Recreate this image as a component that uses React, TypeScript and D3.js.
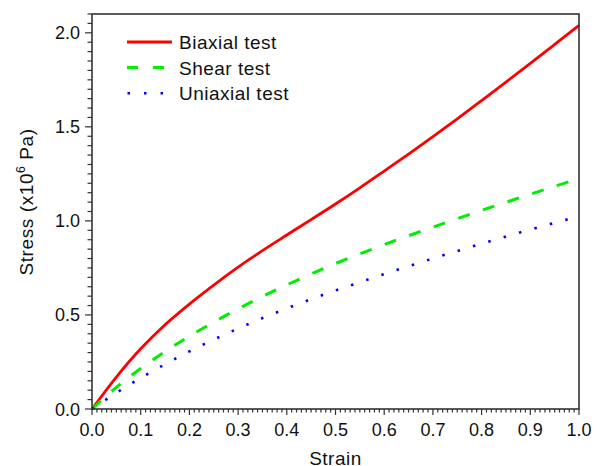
import React from "react";
import * as d3 from "d3";

const strain = [0, 0.05, 0.1, 0.15, 0.2, 0.25, 0.3, 0.35, 0.4, 0.45, 0.5, 0.55, 0.6, 0.65, 0.7, 0.75, 0.8, 0.85, 0.9, 0.95, 1.0];
const biaxial = [0, 0.17, 0.32, 0.448, 0.558, 0.659, 0.754, 0.842, 0.925, 1.007, 1.09, 1.176, 1.265, 1.355, 1.448, 1.543, 1.64, 1.738, 1.837, 1.938, 2.04];
const shear = [0, 0.115, 0.215, 0.305, 0.387, 0.462, 0.532, 0.598, 0.66, 0.718, 0.773, 0.825, 0.874, 0.921, 0.967, 1.012, 1.056, 1.099, 1.142, 1.184, 1.226];
const uniaxial = [0, 0.086, 0.165, 0.238, 0.306, 0.369, 0.428, 0.483, 0.535, 0.584, 0.63, 0.674, 0.717, 0.759, 0.8, 0.84, 0.879, 0.917, 0.954, 0.99, 1.025];

const seriesNames = ["Biaxial test", "Shear test", "Uniaxial test"];
const seriesColors = ["#ff0000", "#00ee00", "#0000ff"];
const seriesDash = [null, "12,14", "2.5,13.5"];
const seriesWidth = [2.8, 3, 2.6];
const seriesValues = [biaxial, shear, uniaxial];

const xMajor = [0, 0.1, 0.2, 0.3, 0.4, 0.5, 0.6, 0.7, 0.8, 0.9, 1.0];
const yMajor = [0, 0.5, 1.0, 1.5, 2.0];

const W = 600, H = 466;
const L = 92, R = 579, T = 14, B = 409;

export default function App() {
  const x = d3.scaleLinear().domain([0, 1]).range([L, R]);
  const y = d3.scaleLinear().domain([0, 2.1]).range([B, T]);
  const line = d3.line<[number, number]>()
    .x((d) => x(d[0]))
    .y((d) => y(d[1]))
    .curve(d3.curveCatmullRom.alpha(0.5));

  const xMinor = d3.range(0, 101).map((i) => i / 100);
  const yMinor = d3.range(0, 43).map((i) => i * 0.05);
  const axisColor = "#333";
  const font = "Arial, 'Liberation Sans', Helvetica, sans-serif";

  return (
    <svg width={W} height={H} style={{ position: "absolute", left: 0, top: 0, background: "#fff" }} fontFamily={font}>
      <rect x={0} y={0} width={W} height={H} fill="#fff" />
      {seriesValues.map((vals, i) => (
        <path
          key={i}
          d={line(strain.map((s, j) => [s, vals[j]]) as [number, number][]) || ""}
          fill="none"
          stroke={seriesColors[i]}
          strokeWidth={seriesWidth[i]}
          strokeDasharray={seriesDash[i] || undefined}
        />
      ))}
      <rect x={L} y={T} width={R - L} height={B - T} fill="none" stroke={axisColor} strokeWidth={1.6} />
      {xMinor.map((v, i) => (
        <line key={"xm" + i} x1={x(v)} x2={x(v)} y1={B} y2={B + (i % 10 === 0 ? 6 : 3.5)} stroke={axisColor} strokeWidth={1.2} />
      ))}
      {xMajor.map((v, i) => (
        <text key={"xl" + i} x={x(v)} y={436} textAnchor="middle" fontSize={18} fill="#111">
          {v.toFixed(1)}
        </text>
      ))}
      {yMinor.map((v, i) => (
        <line key={"ym" + i} x1={L} x2={L - (i % 10 === 0 ? 7 : 4.5)} y1={y(v)} y2={y(v)} stroke={axisColor} strokeWidth={1.2} />
      ))}
      {yMajor.map((v, i) => (
        <text key={"yl" + i} x={80} y={y(v) + 6.5} textAnchor="end" fontSize={18} fill="#111">
          {v.toFixed(1)}
        </text>
      ))}
      <text x={(L + R) / 2} y={464.5} textAnchor="middle" fontSize={19} letterSpacing={0.5} fill="#111">
        Strain
      </text>
      <text transform={`translate(33, 202) rotate(-90)`} textAnchor="middle" fontSize={19} letterSpacing={0.6} fill="#111">
        Stress (x10<tspan fontSize={12} dy={-8}>6</tspan><tspan dy={8}> Pa)</tspan>
      </text>
      {seriesNames.map((name, i) => {
        const cy = 42 + i * 25.6;
        return (
          <g key={"lg" + i}>
            <line x1={127} x2={172} y1={cy} y2={cy} stroke={seriesColors[i]} strokeWidth={seriesWidth[i]}
              strokeDasharray={i === 1 ? "11,15" : i === 2 ? "2.5,14" : undefined} strokeDashoffset={i === 2 ? -0.5 : 0} />
            <text x={179} y={cy + 7} fontSize={19} letterSpacing={0.5} fill="#111">{name}</text>
          </g>
        );
      })}
    </svg>
  );
}
